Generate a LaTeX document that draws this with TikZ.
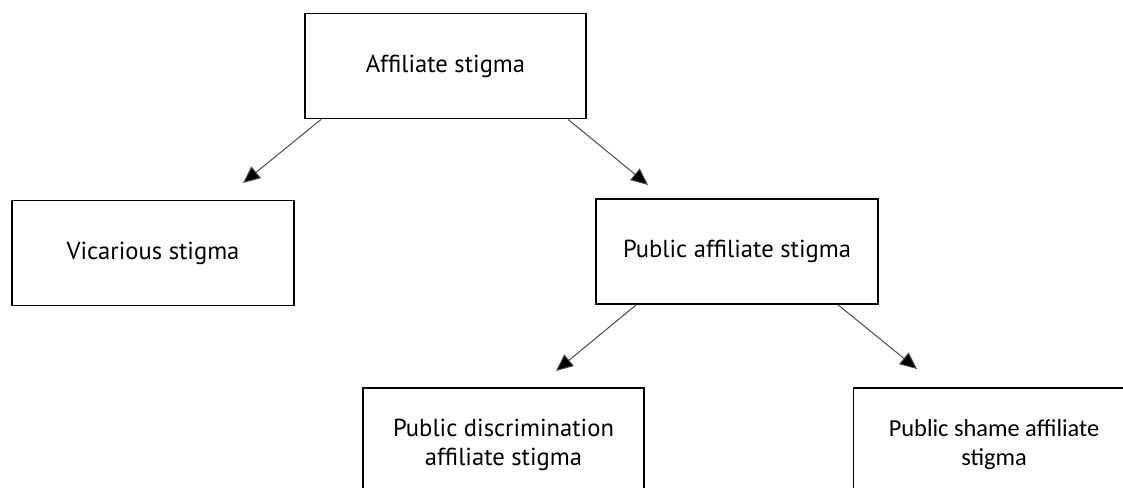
\documentclass[tikz,border=0pt]{standalone}
\usepackage{fontspec}
\usetikzlibrary{arrows.meta,calc}
\newfontfamily\ptfont{PT Sans}
\newfontfamily\carlitofont{Carlito}
\begin{document}
\begin{tikzpicture}[x=1pt,y=-1pt,
  box/.style={draw=black,line width=1.8pt,minimum width=281pt,minimum height=105pt,inner sep=0pt,align=center,font=\ptfont\fontsize{24.6}{29}\selectfont},
  conn/.style={draw=black!70,line width=1pt,-{Triangle[length=17pt,width=15pt,fill=black]}}]
\useasboundingbox (0,0) rectangle (1123,487);
\clip (0,0) rectangle (1123,487);
\fill[white] (0,0) rectangle (1123,487);
\node[box] (aff) at (445.5,66) {Affiliate stigma};
\node[box,minimum width=282pt] (vic) at (153,253) {Vicarious stigma};
\node[box,minimum width=282pt] (pub) at (737,251.5) {Public affiliate stigma};
\node[box,minimum height=114pt] (disc) at (503.5,445) {Public discrimination\\affiliate stigma};
\node[box,minimum height=114pt,font=\carlitofont\fontsize{24.4}{29}\selectfont] (shame) at (994,445) {Public shame affiliate\\stigma};
\coordinate (t1) at (243,183);
\coordinate (t2) at (648,185);
\coordinate (t3) at (556,371);
\coordinate (t4) at (917,369);
\draw[conn] ($(aff.south west)+(17pt,0)$) -- (t1);
\draw[conn] ($(aff.south west)+(264pt,0)$) -- (t2);
\draw[conn] ($(pub.south west)+(41pt,0)$) -- (t3);
\draw[conn] ($(pub.south west)+(243pt,0)$) -- (t4);
\end{tikzpicture}
\end{document}
